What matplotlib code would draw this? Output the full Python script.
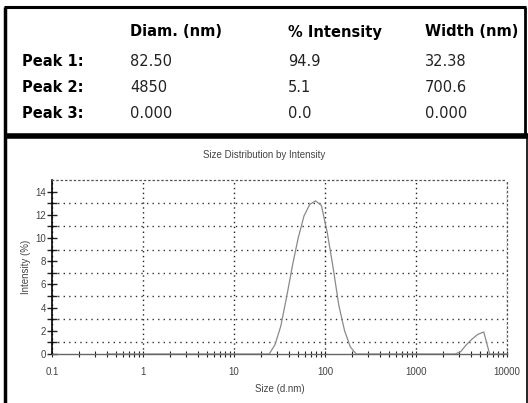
import matplotlib.pyplot as plt
import matplotlib.ticker as mticker
from matplotlib.lines import Line2D
import numpy as np

# peak table
col_headers = ["Diam. (nm)", "% Intensity", "Width (nm)"]
row_labels = ["Peak 1:", "Peak 2:", "Peak 3:"]
diam = ["82.50", "4850", "0.000"]
intensity_pct = ["94.9", "5.1", "0.0"]
width = ["32.38", "700.6", "0.000"]

# size distribution
size_nm = [0.4, 1.0, 10.0, 24.36, 28.21, 32.67, 37.84, 43.82, 50.75, 58.77,
           68.06, 78.82, 91.28, 105.7, 122.4, 141.8, 164.2, 190.1, 220.2,
           1000.0, 2700.0, 3091.0, 3580.0, 4145.0, 4801.0, 5560.0, 6439.0, 10000.0]
intensity = [0, 0, 0, 0, 0.8, 2.4, 4.9, 7.6, 10.0, 11.9,
             12.9, 13.2, 12.8, 10.5, 7.5, 4.2, 2.0, 0.6, 0,
             0, 0, 0.2, 0.8, 1.3, 1.7, 1.9, 0, 0]

W, H = 528, 403
fig = plt.figure(figsize=(W / 100, H / 100), dpi=100)
plt.rcParams['font.family'] = ['Liberation Sans', 'DejaVu Sans']


def fx(px):
    return px / W


def fy(py):
    return 1 - py / H


# ---- table part (wider font, the scan is stretched sideways)
tfont = ['DejaVu Sans']
hdr_x = [130, 288, 425]
row_y = [62, 87, 113]
for x, t in zip(hdr_x, col_headers):
    fig.text(fx(x), fy(32), t, fontsize=10.5, fontweight='bold', va='center', family=tfont)
for i, lab in enumerate(row_labels):
    fig.text(fx(22), fy(row_y[i]), lab, fontsize=10.5, fontweight='bold', va='center', family=tfont)
    for x, v in zip(hdr_x, [diam[i], intensity_pct[i], width[i]]):
        fig.text(fx(x), fy(row_y[i]), v, fontsize=10.5, va='center', color='#222222', family=tfont)

# box borders
def pline(x0, y0, x1, y1, lw, c='black'):
    fig.add_artist(Line2D([fx(x0), fx(x1)], [fy(y0), fy(y1)], lw=lw, color=c,
                          transform=fig.transFigure, solid_capstyle='butt'))

pline(4, 7, 526, 7, 2.2)
pline(5, 7, 5, 403, 2.5)
pline(525, 7, 525, 134, 2.0)
pline(4, 135.5, 528, 135.5, 4.0)
pline(526.5, 135, 526.5, 403, 1.2)

# ---- chart
ax = fig.add_axes([fx(52), fy(354), fx(507) - fx(52), fy(180) - fy(354)])
ax.plot(size_nm, intensity, color='#8a8a8a', lw=0.9, zorder=3)
ax.set_xscale('log')
ax.set_xlim(0.1, 10000)
ax.set_ylim(0, 15)

ax.set_yticks(np.arange(0, 15, 2))
ax.yaxis.set_minor_locator(mticker.FixedLocator(np.arange(1, 15, 2)))
ax.xaxis.set_major_locator(mticker.LogLocator(base=10, numticks=10))
ax.xaxis.set_minor_locator(mticker.LogLocator(base=10, subs=np.arange(2, 10), numticks=20))
ax.xaxis.set_major_formatter(mticker.FuncFormatter(lambda v, p: f"{v:g}"))
ax.xaxis.set_minor_formatter(mticker.NullFormatter())

ax.tick_params(axis='both', which='both', direction='inout', color='#222222',
               labelsize=7, labelcolor='#444444')
ax.tick_params(axis='y', which='major', length=7, width=1.0, pad=1)
ax.tick_params(axis='y', which='minor', length=7, width=1.0)
ax.tick_params(axis='x', which='major', length=5, width=0.8, pad=7)
ax.tick_params(axis='x', which='minor', length=5, width=0.8)

ax.grid(True, axis='x', which='major', color='#222222', ls=(0, (1, 2.5)), lw=1.0)
ax.grid(True, axis='y', which='minor', color='#333333', ls=(0, (1, 3)), lw=1.0)

ax.spines['left'].set_linewidth(1.2)
ax.spines['bottom'].set_color('#666666')
ax.spines['bottom'].set_linewidth(1.0)
for s in ['top', 'right']:
    ax.spines[s].set_linestyle((0, (1, 2.5)))
    ax.spines[s].set_color('#555555')
    ax.spines[s].set_linewidth(0.9)

ax.set_xlabel("Size (d.nm)", fontsize=7, color='#444444', labelpad=5)
ax.set_ylabel("Intensity (%)", fontsize=7, color='#444444', labelpad=3)
fig.text(fx(264), fy(155), "Size Distribution by Intensity", fontsize=7,
         color='#444444', ha='center', va='center')

fig.savefig("out.png", dpi=100)
